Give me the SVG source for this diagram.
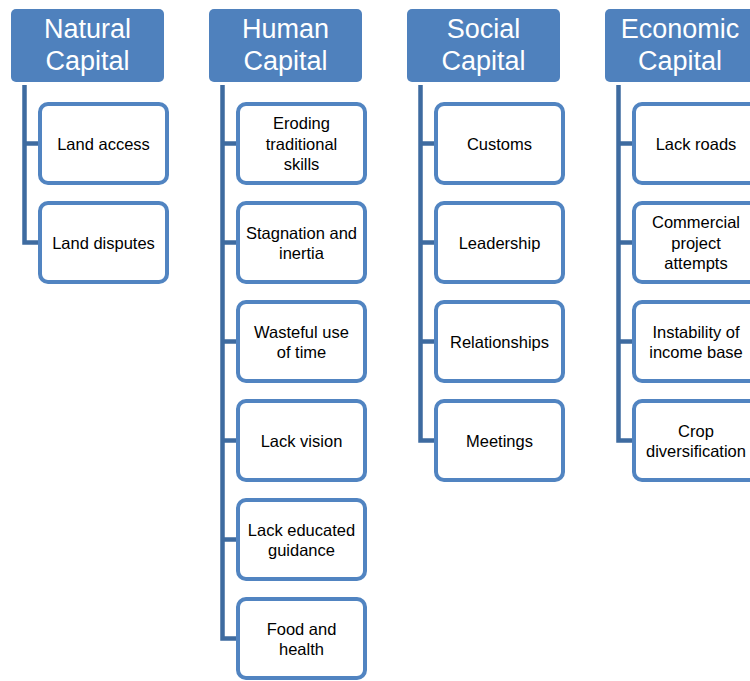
<svg xmlns="http://www.w3.org/2000/svg" width="750" height="681" viewBox="0 0 750 681">
  <style>
    .head rect { fill: #4F81BD; }
    .head text { fill: #FFFFFF; font-family: "Liberation Sans", Arial, sans-serif; font-size: 27px; text-anchor: middle; }
    .item rect { fill: #FFFFFF; stroke: #5184C1; stroke-width: 4; }
    .item text { fill: #000000; font-family: "Liberation Sans", Arial, sans-serif; font-size: 16.5px; text-anchor: middle; }
    .links path { fill: none; stroke: #3E6BA0; stroke-width: 4.5; stroke-linejoin: miter; }
  </style>

  <!-- connectors: spine from each header down to its children, with a branch to each child -->
  <g id="connectors" class="links">
    <path d="M24.5 85 V242.5 H40 M24.5 143.5 H40"/>
    <path d="M222.5 85 V638.5 H238 M222.5 143.5 H238 M222.5 242.5 H238 M222.5 341.5 H238 M222.5 440.5 H238 M222.5 539.5 H238"/>
    <path d="M420.5 85 V440.5 H436 M420.5 143.5 H436 M420.5 242.5 H436 M420.5 341.5 H436"/>
    <path d="M618.5 85 V440.5 H634 M618.5 143.5 H634 M618.5 242.5 H634 M618.5 341.5 H634"/>
  </g>

  <!-- column headers -->
  <g id="natural-capital" class="head">
    <rect x="11" y="9" width="153" height="73" rx="5"/>
    <text x="87.5" y="37.5">Natural</text>
    <text x="87.5" y="69.5">Capital</text>
  </g>
  <g id="human-capital" class="head">
    <rect x="209" y="9" width="153" height="73" rx="5"/>
    <text x="285.5" y="37.5">Human</text>
    <text x="285.5" y="69.5">Capital</text>
  </g>
  <g id="social-capital" class="head">
    <rect x="407" y="9" width="153" height="73" rx="5"/>
    <text x="483.5" y="37.5">Social</text>
    <text x="483.5" y="69.5">Capital</text>
  </g>
  <g id="economic-capital" class="head">
    <rect x="605" y="9" width="153" height="73" rx="5"/>
    <text x="680" y="37.5">Economic</text>
    <text x="680" y="69.5">Capital</text>
  </g>

  <!-- Natural capital items -->
  <g id="land-access" class="item">
    <rect x="40" y="104" width="127" height="79" rx="8"/>
    <text x="103.5" y="149.5">Land access</text>
  </g>
  <g id="land-disputes" class="item">
    <rect x="40" y="203" width="127" height="79" rx="8"/>
    <text x="103.5" y="248.5">Land disputes</text>
  </g>

  <!-- Human capital items -->
  <g id="eroding-skills" class="item">
    <rect x="238" y="104" width="127" height="79" rx="8"/>
    <text x="301.5" y="129">Eroding</text>
    <text x="301.5" y="149.5">traditional</text>
    <text x="301.5" y="170">skills</text>
  </g>
  <g id="stagnation" class="item">
    <rect x="238" y="203" width="127" height="79" rx="8"/>
    <text x="301.5" y="238.5">Stagnation and</text>
    <text x="301.5" y="259">inertia</text>
  </g>
  <g id="wasteful-time" class="item">
    <rect x="238" y="302" width="127" height="79" rx="8"/>
    <text x="301.5" y="337.5">Wasteful use</text>
    <text x="301.5" y="358">of time</text>
  </g>
  <g id="lack-vision" class="item">
    <rect x="238" y="401" width="127" height="79" rx="8"/>
    <text x="301.5" y="446.5">Lack vision</text>
  </g>
  <g id="lack-guidance" class="item">
    <rect x="238" y="500" width="127" height="79" rx="8"/>
    <text x="301.5" y="535.5">Lack educated</text>
    <text x="301.5" y="556">guidance</text>
  </g>
  <g id="food-health" class="item">
    <rect x="238" y="599" width="127" height="79" rx="8"/>
    <text x="301.5" y="634.5">Food and</text>
    <text x="301.5" y="655">health</text>
  </g>

  <!-- Social capital items -->
  <g id="customs" class="item">
    <rect x="436" y="104" width="127" height="79" rx="8"/>
    <text x="499.5" y="149.5">Customs</text>
  </g>
  <g id="leadership" class="item">
    <rect x="436" y="203" width="127" height="79" rx="8"/>
    <text x="499.5" y="248.5">Leadership</text>
  </g>
  <g id="relationships" class="item">
    <rect x="436" y="302" width="127" height="79" rx="8"/>
    <text x="499.5" y="347.5">Relationships</text>
  </g>
  <g id="meetings" class="item">
    <rect x="436" y="401" width="127" height="79" rx="8"/>
    <text x="499.5" y="446.5">Meetings</text>
  </g>

  <!-- Economic capital items -->
  <g id="lack-roads" class="item">
    <rect x="634" y="104" width="127" height="79" rx="8"/>
    <text x="696" y="149.5">Lack roads</text>
  </g>
  <g id="commercial-attempts" class="item">
    <rect x="634" y="203" width="127" height="79" rx="8"/>
    <text x="696" y="228">Commercial</text>
    <text x="696" y="248.5">project</text>
    <text x="696" y="269">attempts</text>
  </g>
  <g id="income-instability" class="item">
    <rect x="634" y="302" width="127" height="79" rx="8"/>
    <text x="696" y="337.5">Instability of</text>
    <text x="696" y="358">income base</text>
  </g>
  <g id="crop-diversification" class="item">
    <rect x="634" y="401" width="127" height="79" rx="8"/>
    <text x="696" y="436.5">Crop</text>
    <text x="696" y="457">diversification</text>
  </g>
</svg>
